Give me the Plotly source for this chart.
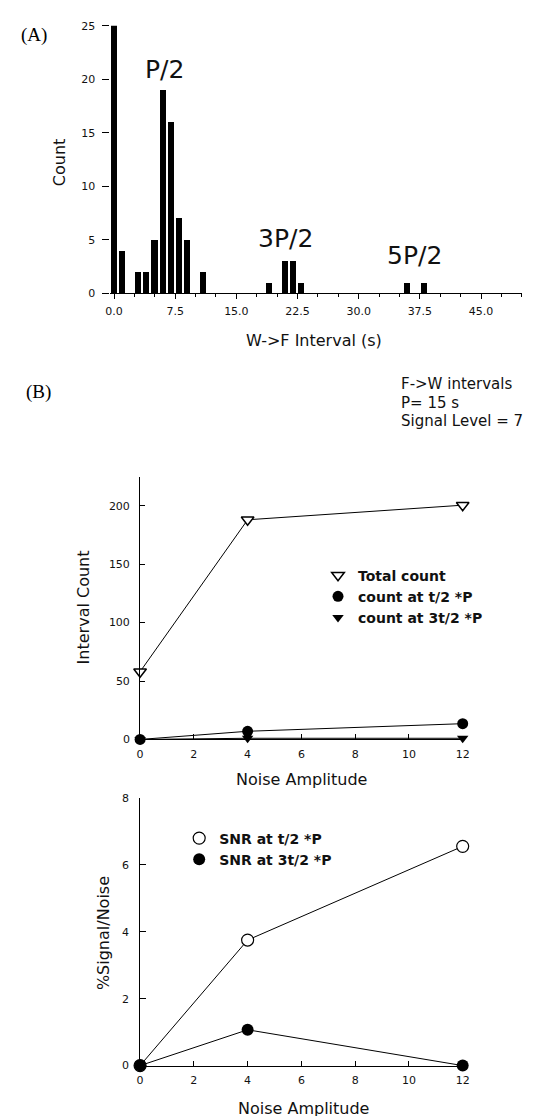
import plotly.graph_objects as go

W, H = 535, 1116

# ---------------- data ----------------
# Panel A: W->F interval histogram (bin position in s, count)
hist_x = [0, 1, 3, 4, 5, 6, 7, 8, 9, 11, 19, 21, 22, 23, 36, 38]
hist_count = [30, 4, 2, 2, 5, 19, 16, 7, 5, 2, 1, 3, 3, 1, 1, 1]

# Panel B (middle): interval counts vs noise amplitude
noise = [0, 4, 12]
total_count = [58, 188, 200.5]
count_half = [0, 7, 13.5]
count_3half = [0, 1, 1]

# Panel B (bottom): % signal / noise
snr_half = [0, 3.75, 6.55]
snr_3half = [0, 1.07, 0]

x_ticks_A = [0, 7.5, 15, 22.5, 30, 37.5, 45]
x_ticks_B = [0, 2, 4, 6, 8, 10, 12]


def px(x):
    return x / W


def py(y):
    return 1 - y / H


fig = go.Figure()

# Histogram
fig.add_trace(go.Bar(x=hist_x, y=hist_count, width=0.75, marker=dict(color="black", line=dict(width=0)),
                     xaxis="x", yaxis="y", showlegend=False))

line = dict(color="black", width=1)

# connecting lines (no legend entries)
for xa, ya, ys in [("x2", "y2", total_count), ("x2", "y2", count_half), ("x2", "y2", count_3half),
                   ("x3", "y3", snr_half), ("x3", "y3", snr_3half)]:
    fig.add_trace(go.Scatter(x=noise, y=ys, mode="lines", line=line, xaxis=xa, yaxis=ya,
                             showlegend=False, hoverinfo="skip", cliponaxis=False))

# markers (legend entries)
fig.add_trace(go.Scatter(x=noise, y=total_count, mode="markers", name="Total count",
                         marker=dict(symbol="triangle-down", size=11, color="white",
                                     line=dict(color="black", width=1.5)),
                         xaxis="x2", yaxis="y2", legend="legend", cliponaxis=False))
fig.add_trace(go.Scatter(x=noise, y=count_half, mode="markers", name="count at t/2 *P",
                         marker=dict(symbol="circle", size=11, color="black"),
                         xaxis="x2", yaxis="y2", legend="legend", cliponaxis=False))
fig.add_trace(go.Scatter(x=noise, y=count_3half, mode="markers", name="count at 3t/2 *P",
                         marker=dict(symbol="triangle-down", size=10, color="black"),
                         xaxis="x2", yaxis="y2", legend="legend", cliponaxis=False))

fig.add_trace(go.Scatter(x=noise, y=snr_half, mode="markers", name="SNR at t/2 *P",
                         marker=dict(symbol="circle", size=12, color="white",
                                     line=dict(color="black", width=1.2)),
                         xaxis="x3", yaxis="y3", legend="legend2", cliponaxis=False))
fig.add_trace(go.Scatter(x=noise, y=snr_3half, mode="markers", name="SNR at 3t/2 *P",
                         marker=dict(symbol="circle", size=12, color="black"),
                         xaxis="x3", yaxis="y3", legend="legend2", cliponaxis=False))

tickfont = dict(family="DejaVu Sans", size=11, color="#111")
legfont = dict(family="DejaVu Sans", size=14, color="#111", weight="bold")

common_ax = dict(showgrid=False, zeroline=False, linecolor="black", linewidth=1,
                 tickcolor="black", tickwidth=1, tickfont=tickfont, fixedrange=True)

fig.update_layout(
    width=W, height=H, autosize=False,
    margin=dict(l=0, r=0, t=0, b=0),
    paper_bgcolor="white", plot_bgcolor="white",
    bargap=0,
    xaxis=dict(**common_ax, domain=[px(99.6), px(520.5)], range=[-0.45, 50], anchor="y",
               showline=True, ticks="outside", ticklen=5, tickvals=x_ticks_A, tickformat=".1f",
               ticklabelstandoff=3,
               minor=dict(dtick=2.5, tick0=0, ticks="outside", ticklen=3, tickcolor="black")),
    yaxis=dict(**common_ax, domain=[py(282.5), py(12)], range=[0, 25], anchor="x",
               showline=False, ticks="outside", ticklen=7, dtick=5, ticklabelstandoff=5),
    xaxis2=dict(**common_ax, domain=[px(130), px(460)], range=[0, 12], anchor="y2",
                showline=True, ticks="inside", ticklen=5, tickvals=x_ticks_B, ticklabelstandoff=4),
    yaxis2=dict(**common_ax, domain=[py(734), py(468)], range=[0, 225], anchor="x2",
                showline=True, ticks="inside", ticklen=5, dtick=50, ticklabelstandoff=7),
    xaxis3=dict(**common_ax, domain=[px(130), px(460)], range=[0, 12], anchor="y3",
                showline=True, ticks="inside", ticklen=5, tickvals=x_ticks_B, ticklabelstandoff=4),
    yaxis3=dict(**common_ax, domain=[py(1064), py(793)], range=[0, 8], anchor="x3",
                showline=True, ticks="inside", ticklen=6, dtick=2, ticklabelstandoff=8),
    legend=dict(x=px(312), y=py(552), xanchor="left", yanchor="top", font=legfont,
                bgcolor="rgba(0,0,0,0)", borderwidth=0, tracegroupgap=0, traceorder="normal"),
    legend2=dict(x=px(170), y=py(818), xanchor="left", yanchor="top", font=legfont,
                 bgcolor="rgba(0,0,0,0)", borderwidth=0, tracegroupgap=0, traceorder="normal"),
)

ann = []


def add_text(text, x, y, size=16, family="DejaVu Sans", angle=0, xanchor="center", color="#111"):
    ann.append(dict(text=text, x=px(x), y=py(y), xref="paper", yref="paper", showarrow=False,
                    xanchor=xanchor, yanchor="middle", textangle=angle,
                    font=dict(family=family, size=size, color=color)))


add_text("(A)", 6, 21, size=19, family="Liberation Serif", xanchor="left", color="black")
add_text("(B)", 11, 382, size=19, family="Liberation Serif", xanchor="left", color="black")
add_text("P/2", 155, 56, size=25)
add_text("3P/2", 279, 227, size=25)
add_text("5P/2", 411, 244, size=25)
add_text("F->W intervals", 395, 374, size=15, xanchor="left")
add_text("P= 15 s", 395, 394, size=15, xanchor="left")
add_text("Signal Level = 7", 395, 412, size=15, xanchor="left")
add_text("Count", 47, 150, angle=-90)
add_text("W->F Interval (s)", 308, 330)
add_text("Interval Count", 72, 600, angle=-90)
add_text("Noise Amplitude", 295, 775)
add_text("%Signal/Noise", 92, 930, angle=-90)
add_text("Noise Amplitude", 297, 1107)

fig.update_layout(annotations=ann)

fig.write_html("out.html")
